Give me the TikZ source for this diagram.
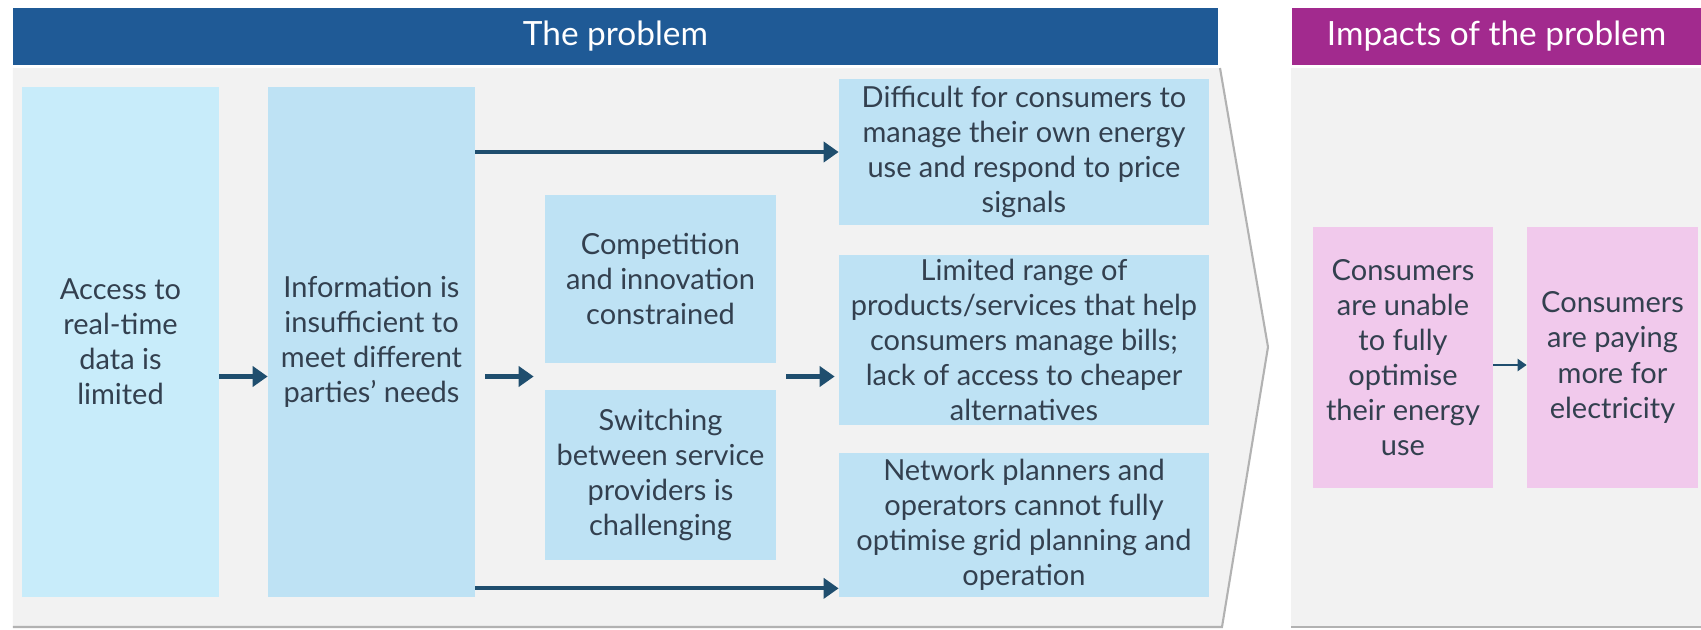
\documentclass[tikz,border=0pt]{standalone}
\usepackage{fontspec}
\setmainfont{Lato}
\usetikzlibrary{calc,arrows.meta}
\definecolor{headblue}{HTML}{1F5A96}
\definecolor{headpink}{HTML}{A22A8E}
\definecolor{panelgray}{HTML}{F2F2F2}
\definecolor{boxblue}{HTML}{BEE2F4}
\definecolor{boxlight}{HTML}{C8ECFA}
\definecolor{boxpink}{HTML}{F1C9EC}
\definecolor{arrowblue}{HTML}{1F4E6E}
\definecolor{textdark}{HTML}{33404F}

\begin{document}
\begin{tikzpicture}[y=-1cm,
  every node/.style={font=\fontsize{16.5}{20}\selectfont, text=textdark, align=center, inner sep=0pt},
  cause/.style={fill=boxblue},
  impact/.style={fill=boxpink},
  header/.style={font=\fontsize{19}{22}\selectfont, text=white, minimum height=1.14cm},
  arr/.style={draw=arrowblue, line width=2.6pt, -{Triangle[length=0.3cm,width=0.4cm]}},
  ]
\useasboundingbox (0,0) rectangle (34.02,12.58);

\fill[panelgray] (0.26,1.36) -- (24.40,1.36) -- (25.36,6.94) -- (24.44,12.54) -- (0.26,12.54) -- cycle;
\draw[gray!60, line width=1.2pt] (24.40,1.36) -- (25.36,6.94) -- (24.44,12.54) -- (0.26,12.54);
\fill[panelgray] (25.82,1.36) rectangle (34.02,12.54);
\draw[gray!60, line width=1.2pt] (25.82,12.54) -- (34.02,12.54);

\node[header, fill=headblue, minimum width=24.10cm] (problem) at (12.31,0.73) {The problem};
\node[header, fill=headpink, minimum width=8.18cm] (impacts) at (29.93,0.73) {Impacts of the problem};

\node[fill=boxlight, minimum width=3.94cm, minimum height=10.2cm] (access) at (2.41,6.84)
  {Access to\\real-time\\data is\\limited};
\node[cause, minimum width=4.14cm, minimum height=10.2cm] (info) at (7.43,6.84)
  {Information is\\insufficient to\\meet different\\parties’ needs};
\node[cause, minimum width=4.62cm, minimum height=3.36cm] (compet) at (13.21,5.58)
  {Competition\\and innovation\\constrained};
\node[cause, minimum width=4.62cm, minimum height=3.40cm] (switch) at (13.21,9.50)
  {Switching\\between service\\providers is\\challenging};
\node[cause, minimum width=7.40cm, minimum height=2.92cm] (manage) at (20.48,3.04)
  {Difficult for consumers to\\manage their own energy\\use and respond to price\\signals};
\node[cause, minimum width=7.40cm, minimum height=3.40cm] (range) at (20.48,6.80)
  {Limited range of\\products/services that help\\consumers manage bills;\\lack of access to cheaper\\alternatives};
\node[cause, minimum width=7.40cm, minimum height=2.88cm] (network) at (20.48,10.50)
  {Network planners and\\operators cannot fully\\optimise grid planning and\\operation};
\node[impact, minimum width=3.60cm, minimum height=5.22cm] (unable) at (28.06,7.15)
  {Consumers\\are unable\\to fully\\optimise\\their energy\\use};
\node[impact, minimum width=3.42cm, minimum height=5.22cm] (paying) at (32.25,7.15)
  {Consumers\\are paying\\more for\\electricity};

\coordinate (gap) at ($(compet.south)!.5!(switch.north)$);
\draw[arr] (access.east |- gap) -- (info.west |- gap);
\draw[arr, shorten <=0.2cm, shorten >=0.22cm] (info.east |- gap) -- (gap -| compet.west);
\draw[arr, shorten <=0.2cm, shorten >=0.08cm] (gap -| compet.east) -- (gap -| range.west);
\draw[arr, line width=2.3pt] (info.east |- manage.west) -- (manage.west);
\draw[arr, line width=2.3pt] ([yshift=0.18cm]info.south east) -- ([yshift=0.18cm]info.south east -| network.west);
\draw[draw=arrowblue, line width=1.6pt, -{Triangle[length=0.18cm,width=0.24cm]}] ([yshift=-0.15cm]unable.east) -- ([yshift=-0.15cm]paying.west);
\end{tikzpicture}
\end{document}
